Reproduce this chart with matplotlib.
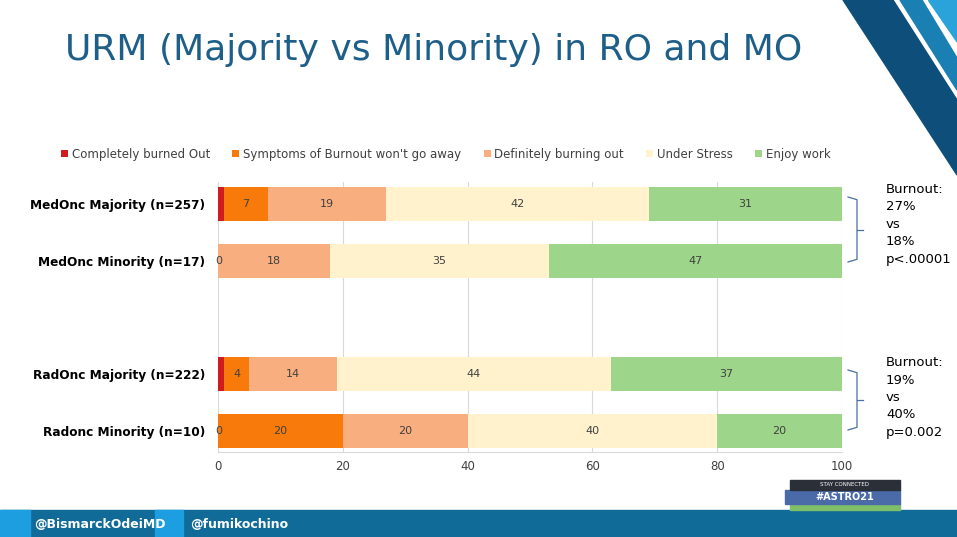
import numpy as np
import matplotlib.pyplot as plt
from matplotlib.patches import Polygon, Rectangle

groups = ["MedOnc Majority (n=257)", "MedOnc Minority (n=17)",
          "RadOnc Majority (n=222)", "Radonc Minority (n=10)"]
series = ["Completely burned Out", "Symptoms of Burnout won't go away",
          "Definitely burning out", "Under Stress", "Enjoy work"]
values = np.array([
    [1, 7, 19, 42, 31],
    [0, 0, 18, 35, 47],
    [1, 4, 14, 44, 37],
    [0, 20, 20, 40, 20],
])
colors = ["#d01c1c", "#f77a0a", "#f8ae7e", "#fff2cc", "#9dd68b"]
ypos = [0, 1, 3, 4]
notes = ["Burnout:\n27%\nvs\n18%\np<.00001", "Burnout:\n19%\nvs\n40%\np=0.002"]

fig = plt.figure(figsize=(9.57, 5.37), dpi=100)
ax = fig.add_axes([218/957, 1-452/537, 624/957, 270/537])

left = np.zeros(len(groups))
for j, (name, col) in enumerate(zip(series, colors)):
    ax.barh(ypos, values[:, j], left=left, height=0.6, color=col, label=name, zorder=2)
    for i, v in enumerate(values[:, j]):
        if v > 1:
            ax.text(left[i] + v/2, ypos[i], str(v), ha="center", va="center",
                    fontsize=8, color="#404040", zorder=3)
        elif v == 0 and j == 0:
            ax.text(left[i] + 0.1, ypos[i], "0", ha="center", va="center",
                    fontsize=8, color="#404040", zorder=3)
    left += values[:, j]

ax.set_xlim(0, 100)
ax.set_ylim(4.37, -0.39)
ax.set_xticks([0, 20, 40, 60, 80, 100])
ax.set_yticks(ypos)
ax.set_yticklabels(groups, fontsize=8.7, fontweight="bold", color="black")
ax.tick_params(axis="x", length=0, labelsize=8.5, colors="#404040", pad=6)
ax.tick_params(axis="y", length=0, pad=9)
ax.xaxis.grid(True, color="#d9d9d9", lw=0.8, zorder=0)
for s in ["top", "right", "left"]:
    ax.spines[s].set_visible(False)
ax.spines["bottom"].set_color("#d9d9d9")

ax.legend(loc="lower center", bbox_to_anchor=(0.365, 1.04), ncol=5, frameon=False,
          fontsize=8.5, handlelength=0.6, handleheight=0.6, columnspacing=1.9,
          handletextpad=0.3, labelcolor="#404040")

fig.text(0.068, 1-50/537, "URM (Majority vs Minority) in RO and MO", fontsize=26,
         color="#1e5f8a", va="center")

# brackets
def bracket(y0, y1):
    x0, x1 = 848/957, 857/957
    ym = (y0 + y1) / 2
    fig.lines.append(plt.Line2D([x0, x1, x1, x0], [1-y0/537, 1-y0/537 - 0.005, 1-y1/537 + 0.005, 1-y1/537],
                                transform=fig.transFigure, color="#4a6fa5", lw=0.9))
    fig.lines.append(plt.Line2D([x1, x1 + 0.006], [1-ym/537, 1-ym/537],
                                transform=fig.transFigure, color="#4a6fa5", lw=0.9))
bracket(197, 262)
bracket(370, 430)
fig.text(886/957, 1-183/537, notes[0], fontsize=9.5, va="top", linespacing=1.45)
fig.text(886/957, 1-356/537, notes[1], fontsize=9.5, va="top", linespacing=1.45)

# slide decoration
def poly(pts, col):
    fig.patches.append(Polygon([(x/957, 1-y/537) for x, y in pts], closed=True,
                               transform=fig.transFigure, color=col, zorder=0))
poly([(843, 0), (893, 0), (957, 100), (957, 175)], "#0d4f7a")
poly([(900, 0), (922, 0), (957, 58), (957, 90)], "#1a7fb3")
poly([(928, 0), (957, 0), (957, 42)], "#29a3da")
fig.patches.append(Rectangle((0, 0), 1, 27/537, transform=fig.transFigure,
                             color="#106b99", zorder=0))
fig.patches.append(Rectangle((0, 0), 30/957, 27/537, transform=fig.transFigure,
                             color="#1d9ee0", zorder=0))
fig.patches.append(Rectangle((155/957, 0), 28/957, 27/537, transform=fig.transFigure,
                             color="#1d9ee0", zorder=0))
fig.text(34/957, 13/537, "@BismarckOdeiMD", fontsize=9, color="white", fontweight="bold", va="center")
fig.text(190/957, 13/537, "@fumikochino", fontsize=9, color="white", fontweight="bold", va="center")
fig.patches.append(Rectangle((790/957, 27/537), 110/957, 6/537, transform=fig.transFigure,
                             color="#7fbf6a", zorder=1))
fig.patches.append(Rectangle((785/957, 33/537), 115/957, 14/537, transform=fig.transFigure,
                             color="#4a6aa8", zorder=1))
fig.patches.append(Rectangle((790/957, 47/537), 110/957, 10/537, transform=fig.transFigure,
                             color="#2b2f38", zorder=1))
fig.text(845/957, 52/537, "STAY CONNECTED", fontsize=4, color="white", ha="center", va="center", zorder=2)
fig.text(845/957, 40/537, "#ASTRO21", fontsize=7, color="white", ha="center", va="center", zorder=2, fontweight="bold")

fig.savefig("out.png", dpi=100)
